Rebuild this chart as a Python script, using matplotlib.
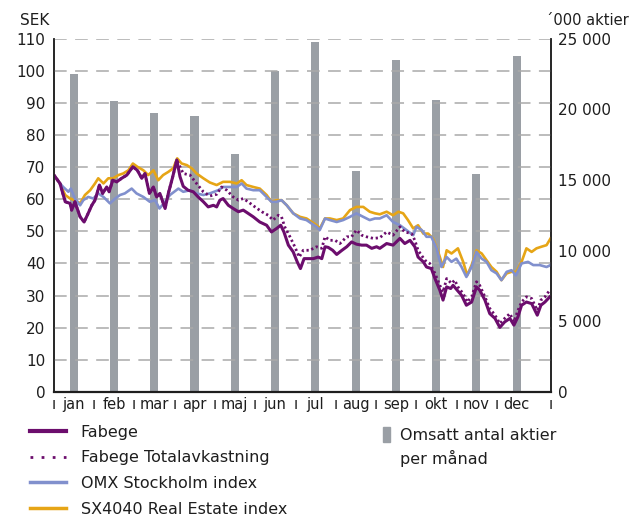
#Fabege share price vs index, with monthly turnover
import numpy as np
import matplotlib
matplotlib.use("Agg")
import matplotlib.pyplot as plt
from matplotlib.lines import Line2D
from matplotlib.patches import Patch

plt.rcParams['font.family'] = ['DejaVu Sans']
#==============================================================================================================
months = ['jan', 'feb', 'mar', 'apr', 'maj', 'jun', 'jul', 'aug', 'sep', 'okt', 'nov', 'dec']
volume = [22500, 20600, 19700, 19500, 16800, 22700, 24750, 15600, 23500, 20650, 15400, 23750]  # '000 aktier

# time in months from 1 jan, price in SEK
fab_t = [0.01, 0.16, 0.29, 0.41, 0.45, 0.53, 0.66, 0.76, 0.86, 0.95, 1.03, 1.14, 1.22, 1.32, 1.38, 1.47,
         1.57, 1.69, 1.82, 1.97, 2.08, 2.19, 2.27, 2.38, 2.48, 2.56, 2.64, 2.77, 2.85, 2.96, 3.06,
         3.14, 3.22, 3.34, 3.47, 3.59, 3.72, 3.84, 3.97, 4.05, 4.13, 4.21, 4.34, 4.46, 4.59, 4.71, 4.83,
         4.96, 5.12, 5.29, 5.41, 5.54, 5.64, 5.72, 5.83, 5.95, 6.05, 6.13, 6.22, 6.32, 6.45, 6.57, 6.66,
         6.74, 6.82, 6.93, 7.03, 7.15, 7.28, 7.40, 7.52, 7.65, 7.77, 7.90, 8.02, 8.10, 8.27, 8.43, 8.60,
         8.72, 8.85, 8.97, 9.05, 9.18, 9.26, 9.38, 9.47, 9.59, 9.67, 9.76, 9.86, 9.92, 10.02, 10.13, 10.25,
         10.38, 10.50, 10.58, 10.71, 10.83, 10.96, 11.08, 11.20, 11.33, 11.43, 11.53, 11.62, 11.74, 11.87,
         12.01, 12.10, 12.20, 12.32]
fab_v = [67.5, 64.9, 59.2, 58.7, 56.6, 59.2, 54.5, 52.9, 55.6, 58.1, 59.7, 64.4, 61.8, 63.8, 62.3, 65.9,
         65.4, 66.5, 67.5, 70.1, 69.0, 66.5, 68.0, 61.8, 63.8, 60.7, 61.8, 57.1, 61.8, 67.0, 72.2,
         67.0, 64.0, 62.8, 62.3, 60.7, 59.2, 57.6, 58.1, 57.6, 59.7, 60.2, 58.1, 57.1, 56.1, 56.6, 55.6,
         54.5, 52.9, 51.9, 49.8, 50.9, 51.9, 49.8, 45.7, 43.6, 40.5, 38.4, 41.5, 41.5, 41.5, 42.0, 41.5,
         45.2, 45.0, 44.1, 42.8, 44.0, 45.2, 46.7, 46.0, 45.7, 45.7, 44.7, 45.2, 44.7, 46.2, 45.7, 47.8,
         46.2, 47.2, 45.2, 42.0, 40.5, 38.9, 38.4, 35.3, 31.7, 28.6, 32.7, 32.2, 33.2, 31.7, 30.1, 27.0,
         28.0, 32.7, 31.7, 28.6, 24.4, 22.9, 20.1, 21.8, 22.9, 20.8, 23.4, 27.0, 28.0, 27.5,
         23.9, 27.0, 28.0, 29.6]

# total return follows the share price until the dividend in april
n_div = fab_t.index(3.06) + 1
tot_t = fab_t[:n_div] + [3.22, 3.39, 3.55, 3.72, 3.88, 4.05, 4.17, 4.30, 4.46, 4.59, 4.71, 4.83, 5.00,
                         5.17, 5.33, 5.45, 5.58, 5.66, 5.74, 5.87, 5.99, 6.10, 6.20, 6.36, 6.53, 6.66,
                         6.74, 6.86, 6.99, 7.11, 7.28, 7.40, 7.52, 7.65, 7.77, 7.94, 8.10, 8.27, 8.43,
                         8.60, 8.72, 8.89, 8.97, 9.05, 9.22, 9.34, 9.47, 9.59, 9.67, 9.76, 9.88, 9.96,
                         10.04, 10.17, 10.27, 10.38, 10.50, 10.58, 10.71, 10.83, 10.96, 11.08, 11.20,
                         11.33, 11.43, 11.53, 11.62, 11.74, 11.87, 12.01, 12.10, 12.20, 12.32]
tot_v = fab_v[:n_div] + [68.0, 67.5, 64.9, 62.3, 61.0, 61.5, 63.8, 62.8, 60.7, 59.7, 60.2, 59.2, 57.6,
                         56.1, 55.0, 53.5, 55.0, 54.5, 51.4, 48.3, 45.2, 42.0, 44.1, 44.1, 45.2, 44.7,
                         48.3, 47.2, 47.2, 46.2, 48.3, 48.3, 50.4, 48.8, 48.3, 47.8, 48.0, 49.8, 48.8,
                         51.4, 49.8, 49.3, 47.2, 44.1, 41.0, 40.0, 36.9, 33.2, 31.1, 35.3, 33.8, 34.8,
                         32.7, 30.6, 28.0, 29.6, 34.3, 33.2, 29.6, 26.0, 23.9, 21.3, 22.9,
                         24.4, 21.8, 25.4, 28.0, 29.6, 29.1, 25.4, 28.6, 29.6, 31.7]

omx_t = [0.01, 0.16, 0.24, 0.37, 0.43, 0.53, 0.66, 0.74, 0.86, 0.99, 1.11, 1.24, 1.40, 1.53, 1.65, 1.77,
         1.94, 2.06, 2.23, 2.39, 2.52, 2.63, 2.77, 2.89, 3.10, 3.22, 3.39, 3.55, 3.72, 3.88, 4.09, 4.21,
         4.38, 4.55, 4.67, 4.79, 4.96, 5.12, 5.29, 5.41, 5.54, 5.66, 5.79, 5.95, 6.12, 6.28, 6.41, 6.53,
         6.61, 6.74, 6.86, 7.03, 7.19, 7.36, 7.52, 7.69, 7.85, 7.98, 8.10, 8.27, 8.43, 8.60, 8.76, 8.93,
         9.01, 9.14, 9.26, 9.38, 9.51, 9.63, 9.76, 9.88, 10.00, 10.13, 10.25, 10.38, 10.50, 10.63, 10.75,
         10.87, 11.00, 11.12, 11.25, 11.37, 11.48, 11.62, 11.78, 11.91, 12.07, 12.24, 12.34]
omx_v = [67.5, 64.9, 63.8, 62.3, 63.3, 60.2, 58.1, 59.7, 60.7, 60.2, 61.8, 60.7, 58.7, 60.2, 61.3, 61.8,
         63.3, 61.8, 60.7, 59.2, 59.7, 57.1, 59.2, 61.3, 63.3, 62.3, 62.8, 61.8, 61.3, 61.8, 62.8, 63.8,
         63.8, 63.8, 64.9, 63.3, 62.8, 62.8, 60.7, 59.2, 59.2, 59.7, 58.1, 55.6, 54.0, 53.5, 52.4, 51.4,
         50.4, 54.0, 53.5, 52.9, 53.5, 54.5, 55.6, 54.5, 53.5, 54.0, 54.0, 55.0, 52.9, 51.9, 50.4, 48.8,
         51.4, 50.4, 48.3, 48.3, 44.7, 38.9, 42.0, 40.5, 41.5, 38.9, 35.8, 38.9, 43.6, 41.5, 40.5,
         37.9, 36.9, 34.8, 37.4, 37.9, 36.3, 40.0, 40.5, 39.5, 39.5, 38.9, 39.5]

sx_t = [0.01, 0.16, 0.29, 0.41, 0.53, 0.66, 0.78, 0.91, 1.03, 1.11, 1.24, 1.36, 1.48, 1.61, 1.73, 1.86,
        1.97, 2.08, 2.23, 2.35, 2.48, 2.60, 2.72, 2.85, 2.97, 3.07, 3.18, 3.31, 3.43, 3.55, 3.72, 3.88,
        4.05, 4.21, 4.38, 4.55, 4.67, 4.79, 4.96, 5.12, 5.29, 5.41, 5.54, 5.66, 5.79, 5.95, 6.12, 6.28,
        6.41, 6.53, 6.61, 6.74, 6.86, 7.03, 7.19, 7.36, 7.52, 7.69, 7.85, 7.98, 8.10, 8.27, 8.43, 8.56,
        8.68, 8.80, 8.93, 9.05, 9.18, 9.30, 9.42, 9.55, 9.67, 9.76, 9.88, 10.04, 10.17, 10.27, 10.38,
        10.50, 10.63, 10.75, 10.87, 11.00, 11.12, 11.25, 11.37, 11.49, 11.62, 11.74, 11.87, 11.99, 12.11,
        12.24, 12.34]
sx_v = [67.5, 64.9, 61.3, 60.2, 59.7, 58.7, 61.3, 62.8, 64.9, 66.5, 64.9, 66.5, 66.5, 67.5, 68.0, 69.0,
        71.1, 70.1, 69.0, 67.5, 69.0, 65.9, 67.5, 68.5, 69.6, 72.7, 71.1, 70.6, 69.6, 68.0, 66.5, 65.2,
        64.4, 65.4, 65.4, 64.9, 65.9, 64.4, 63.8, 63.3, 61.3, 59.2, 59.7, 59.7, 58.1, 55.6, 54.5, 54.0,
        52.9, 51.9, 50.9, 54.0, 54.0, 53.5, 54.0, 56.6, 57.6, 57.6, 56.1, 55.6, 55.3, 56.1, 55.0, 56.1,
        55.6, 53.5, 50.9, 51.9, 49.3, 49.3, 47.8, 43.6, 38.9, 44.1, 43.1, 44.7, 40.5, 36.3, 39.5,
        44.1, 43.1, 41.0, 38.9, 37.4, 34.8, 36.9, 37.4, 37.4, 40.5, 44.7, 43.6, 44.7, 45.2,
        45.7, 47.8]
#==============================================================================================================
purple = '#6c0d6d'
blue = '#8190cd'
gold = '#e6a516'
bargrey = '#9a9fa5'
txt = '#1e1e1e'
x_end = 12.35

fig = plt.figure(figsize=(6.32, 5.19), dpi=100)
ax = fig.add_axes([0.0847, 0.2447, 0.7871, 0.6811])
ax2 = ax.twinx()
ax.set_zorder(ax2.get_zorder() + 1)
ax.patch.set_visible(False)

# volume bars on the right axis
ax2.bar(np.arange(12) + 0.5, volume, width=0.2, color=bargrey, edgecolor='none')
ax2.set_ylim(0, 25000)
ax2.set_yticks(range(0, 25001, 5000))
ax2.set_yticklabels([f'{v:,}'.replace(',', ' ') for v in range(0, 25001, 5000)])

# price lines
ax.plot(sx_t, sx_v, color=gold, lw=1.9, solid_joinstyle='round')
ax.plot(omx_t, omx_v, color=blue, lw=1.9, solid_joinstyle='round')
ax.plot(tot_t, tot_v, color=purple, lw=2.0, linestyle=(0, (0.8, 1.0)))
ax.plot(fab_t, fab_v, color=purple, lw=2.2, solid_joinstyle='round')

ax.set_xlim(0, x_end)
ax.set_ylim(0, 110)
ax.set_yticks(range(0, 111, 10))
ax.yaxis.grid(True, color='#aaaaaa', lw=1.1, linestyle=(0, (8.3, 5.5)))

# month separators and names
ax.set_xticks(list(range(12)) + [x_end])
ax.set_xticklabels(['ı'] * 13, fontsize=10.5, color=txt)
ax.set_xticks(np.arange(12) + 0.5, minor=True)
ax.set_xticklabels(months, minor=True, fontsize=10.5, color=txt)
ax.tick_params(axis='x', which='both', length=0, pad=3.5)
ax.tick_params(axis='y', length=0, pad=6, labelsize=11, labelcolor=txt)
ax2.tick_params(axis='y', length=0, pad=4.8, labelsize=11, labelcolor=txt)

for a in (ax, ax2):
    a.spines['top'].set_visible(False)
    for s in ('left', 'right', 'bottom'):
        a.spines[s].set_color(txt)
        a.spines[s].set_linewidth(1.1)
ax.spines['bottom'].set_linewidth(1.6)

fig.text(0.032, 0.961, 'SEK', fontsize=11, color=txt, va='center', ha='left')
fig.text(0.995, 0.961, '´000 aktier', fontsize=10.5, color=txt, va='center', ha='right')

# legends
handles = [Line2D([], [], color=purple, lw=3),
           Line2D([], [], color=purple, lw=2, linestyle=(0, (1, 3))),
           Line2D([], [], color=blue, lw=2.5),
           Line2D([], [], color=gold, lw=2.5)]
labels = ['Fabege', 'Fabege Totalavkastning', 'OMX Stockholm index', 'SX4040 Real Estate index']
fig.legend(handles, labels, loc='upper left', bbox_to_anchor=(0.047, 0.182), frameon=False,
           fontsize=11.5, handlelength=2.3, handletextpad=0.9, labelspacing=0.67,
           borderpad=0, borderaxespad=0, labelcolor=txt)
fig.legend([Patch(color=bargrey), Patch(color='none')], ['Omsatt antal aktier', 'per månad'],
           loc='upper left', bbox_to_anchor=(0.606, 0.178), frameon=False,
           fontsize=11.5, handlelength=0.45, handleheight=1.1, handletextpad=0.6, labelspacing=0.48,
           borderpad=0, borderaxespad=0, labelcolor=txt)

fig.savefig('out.png', dpi=100)
